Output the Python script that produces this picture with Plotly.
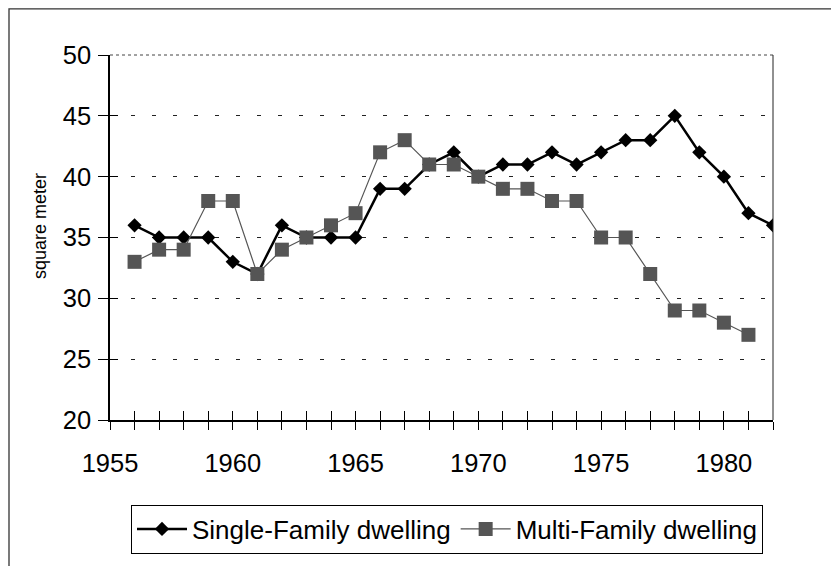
import plotly.graph_objects as go

years_single = list(range(1956, 1983))
single_family = [36, 35, 35, 35, 33, 32, 36, 35, 35, 35, 39, 39, 41, 42, 40,
                 41, 41, 42, 41, 42, 43, 43, 45, 42, 40, 37, 36]
years_multi = list(range(1956, 1982))
multi_family = [33, 34, 34, 38, 38, 32, 34, 35, 36, 37, 42, 43, 41, 41, 40,
                39, 39, 38, 38, 35, 35, 32, 29, 29, 28, 27]

x_tick_years = list(range(1955, 1983))
x_tick_text = [str(y) if y % 5 == 0 else "" for y in x_tick_years]
y_ticks = [20, 25, 30, 35, 40, 45, 50]

FONT = "Liberation Sans, Arial, sans-serif"

# the page body adds an 8px margin; work in page pixels and subtract it
OFF = 8
W, H = 839 - OFF, 566 - OFF
L, R, T, B = 110 - OFF, 773 - OFF, 55 - OFF, 422 - OFF
pw, ph = R - L, B - T

def px_x(p):
    return (p - OFF - L) / pw

def px_y(p):
    return (B - (p - OFF)) / ph

fig = go.Figure()
fig.add_trace(go.Scatter(
    x=years_single, y=single_family, name="Single-Family dwelling",
    mode="lines+markers",
    line=dict(color="black", width=2.5),
    marker=dict(symbol="diamond", size=11, color="black"),
))
fig.add_trace(go.Scatter(
    x=years_multi, y=multi_family, name="Multi-Family dwelling",
    mode="lines+markers",
    line=dict(color="#555555", width=1.2),
    marker=dict(symbol="square", size=14, color="#555555"),
))
# invisible trace to anchor the overlay axes (inside tick marks)
fig.add_trace(go.Scatter(
    x=years_single, y=single_family, xaxis="x2", yaxis="y2",
    mode="lines", opacity=0, showlegend=False, hoverinfo="skip",
))

fig.update_layout(
    width=W, height=H,
    margin=dict(l=L, r=W - R, t=T, b=H - B),
    paper_bgcolor="white", plot_bgcolor="white",
    font=dict(family=FONT, color="black"),
    showlegend=True,
    legend=dict(
        orientation="h", x=px_x(447), xanchor="center", y=px_y(507), yanchor="top",
        font=dict(size=26, family=FONT, color="black"),
        bordercolor="black", borderwidth=1, bgcolor="white",
        itemwidth=50, tracegroupgap=0,
    ),
    xaxis=dict(
        range=[1955, 1982], tickvals=x_tick_years, ticktext=x_tick_text,
        ticks="outside", ticklen=8, tickwidth=1, tickcolor="black",
        showline=True, linecolor="black", linewidth=2,
        showgrid=False, zeroline=False,
        tickfont=dict(size=25.5, family=FONT, color="black"),
        ticklabelstandoff=11,
    ),
    yaxis=dict(
        range=[20, 50], tickvals=y_ticks,
        ticks="outside", ticklen=10, tickwidth=1, tickcolor="black",
        showline=True, linecolor="black", linewidth=1.5,
        showgrid=True, gridcolor="#222222", griddash="4px,17px", gridwidth=1,
        zeroline=False,
        tickfont=dict(size=25.5, family=FONT, color="black"),
        ticklabelstandoff=2,
    ),
    xaxis2=dict(
        overlaying="x", range=[1955, 1982], tickvals=x_tick_years,
        ticks="inside", ticklen=9, tickwidth=1, tickcolor="black",
        showticklabels=False, showgrid=False, zeroline=False, showline=False,
        anchor="y2", side="bottom",
    ),
    yaxis2=dict(
        overlaying="y", range=[20, 50], tickvals=y_ticks,
        ticks="inside", ticklen=8, tickwidth=1, tickcolor="black",
        showticklabels=False, showgrid=False, zeroline=False, showline=False,
        anchor="x2", side="left",
    ),
    shapes=[
        # top border of plot area
        dict(type="line", xref="paper", yref="paper", x0=0, x1=1, y0=1, y1=1,
             line=dict(color="#444444", width=1, dash="dot")),
        # right border of plot area
        dict(type="line", xref="paper", yref="paper", x0=1, x1=1, y0=0, y1=1,
             line=dict(color="#222222", width=1)),
        # outer chart frame
        dict(type="rect", xref="paper", yref="paper",
             x0=px_x(9), x1=px_x(860), y0=px_y(8.7), y1=px_y(600),
             line=dict(color="#333333", width=1.3), layer="below"),
    ],
    annotations=[
        dict(text="square meter", xref="paper", yref="paper",
             x=px_x(40), y=px_y(227), textangle=-90, showarrow=False,
             xanchor="center", yanchor="middle",
             font=dict(size=18, family=FONT, color="black")),
    ],
)

fig.write_html("out.html")
